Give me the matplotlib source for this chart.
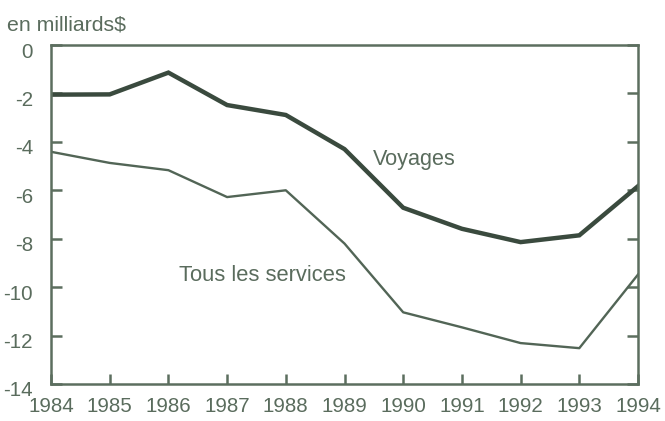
import matplotlib.pyplot as plt
import matplotlib.transforms as mtransforms

years = [1984, 1985, 1986, 1987, 1988, 1989, 1990, 1991, 1992, 1993, 1994]
voyages = [-2.05, -2.04, -1.14, -2.48, -2.89, -4.3, -6.72, -7.59, -8.14, -7.86, -5.83]
tous_services = [-4.41, -4.87, -5.17, -6.28, -6.0, -8.2, -11.04, -11.66, -12.31, -12.52, -9.48]
y_ticks = [0, -2, -4, -6, -8, -10, -12, -14]

plt.rcParams['font.family'] = ['Liberation Sans', 'DejaVu Sans']
plt.rcParams['axes.unicode_minus'] = False

axis_col = '#5c6e5f'
text_col = '#5a6c5d'

fig = plt.figure(figsize=(6.65, 4.21), dpi=100)
ax = fig.add_axes([51 / 665, 37 / 421, 587 / 665, 339 / 421])

ax.plot(years, voyages, color='#3a4a3e', lw=3.2, solid_joinstyle='miter')
ax.plot(years, tous_services, color='#526556', lw=1.7)

ax.set_xlim(1984, 1994)
ax.set_ylim(-14, 0)
ax.set_xticks(years)
ax.set_yticks(y_ticks)
ax.set_yticklabels([str(v) for v in y_ticks])

for s in ax.spines.values():
    s.set_color(axis_col)
    s.set_linewidth(1.8)

ax.tick_params(axis='x', direction='in', length=7, width=1.8, color=axis_col,
               labelcolor=text_col, labelsize=14.8, pad=9)
ax.tick_params(axis='y', direction='in', length=8, width=1.8, color=axis_col,
               labelcolor=text_col, labelsize=14.8, pad=13, right=True)

# y labels sit a little below their ticks in the original
offset = mtransforms.ScaledTranslation(0, -5 / 100, fig.dpi_scale_trans)
for lab in ax.get_yticklabels():
    lab.set_transform(lab.get_transform() + offset)

ax.text(1989.49, -4.94, 'Voyages', color=text_col, fontsize=15.6, va='baseline', ha='left')
ax.text(1986.18, -9.73, 'Tous les services', color=text_col, fontsize=15.8, va='baseline', ha='left')

fig.text(7 / 665, 1 - 31 / 421, 'en milliards$', color=text_col, fontsize=15.3, va='baseline', ha='left')

fig.savefig('out.png', dpi=100)
